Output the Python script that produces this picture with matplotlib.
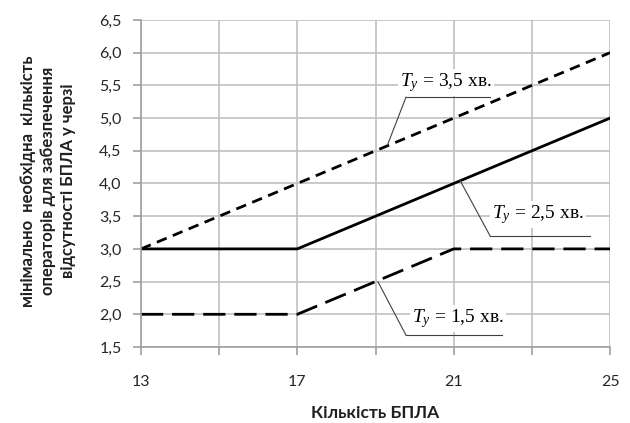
import matplotlib
matplotlib.use('Agg')
import matplotlib.pyplot as plt

# кількість БПЛА та мінімальна кількість операторів
drones = [13, 17, 21, 25]
ops_35 = [3, 4, 5, 6]
ops_25 = [3, 3, 4, 5]
ops_15 = [2, 2, 3, 3]

y_ticks = [1.5, 2.0, 2.5, 3.0, 3.5, 4.0, 4.5, 5.0, 5.5, 6.0, 6.5]
x_ticks = [13, 17, 21, 25]

plt.rcParams['mathtext.fontset'] = 'custom'
plt.rcParams['mathtext.rm'] = 'Liberation Serif'
plt.rcParams['mathtext.it'] = 'Liberation Serif:italic'

fig = plt.figure(figsize=(6.3, 4.23), dpi=100)
ax = fig.add_axes([0.2238, 0.1797, 0.7445, 0.773])

ax.plot(drones, ops_35, color='black', lw=2, dashes=(3.8, 2.4))
ax.plot(drones, ops_25, color='black', lw=2)
ax.plot(drones, ops_15, color='black', lw=2, dashes=(8, 3.2))

ax.set_xlim(13, 25)
ax.set_ylim(1.5, 6.5)
ax.set_xticks(x_ticks)
ax.set_xticks(range(13, 26, 2), minor=True)
ax.set_yticks(y_ticks)
ax.set_yticklabels([f"{v:.1f}".replace('.', ',') for v in y_ticks])
ax.grid(True, which='both', color='#c0c0c0', lw=1.2)
ax.set_axisbelow(True)
for s in ax.spines.values():
    s.set_visible(False)
ax.spines['left'].set_visible(True)
ax.spines['bottom'].set_visible(True)
ax.spines['left'].set_color('#a0a0a0')
ax.spines['bottom'].set_color('#a0a0a0')
ax.spines['left'].set_linewidth(1.2)
ax.spines['bottom'].set_linewidth(1.2)
ax.tick_params(axis='both', which='both', color='#a0a0a0', length=6, width=1.2,
               labelsize=11.5, labelcolor='#262626')
ax.tick_params(axis='x', which='major', pad=14)
ax.tick_params(axis='y', pad=8)
for lab in ax.get_xticklabels() + ax.get_yticklabels():
    lab.set_family('Lato')

ax.set_xlabel("Кількість БПЛА", fontsize=12.5, fontweight='bold', family='Lato',
              color='#202020')
ax.xaxis.set_label_coords(0.5, -0.177)
ax.set_ylabel("мінімально  необхідна  кількість\nоператорів для забезпечення\nвідсутності БПЛА у черзі",
              fontsize=12, fontweight='bold', family='Lato', color='#202020',
              linespacing=1.3)
ax.yaxis.set_label_coords(-0.139, 0.507)

# підписи з виносками
labels = [
    (r'$T_y$ = 3,5 хв.', 19.63, 5.54, 19.78, 21.93, 5.32, 19.3, 4.58),
    (r'$T_y$ = 2,5 хв.', 21.98, 3.52, 21.93, 24.49, 3.20, 21.16, 4.05),
    (r'$T_y$ = 1,5 хв.', 19.93, 1.94, 19.78, 22.24, 1.68, 19.06, 2.5),
]
for txt, tx, ty, ux0, ux1, uy, px, py in labels:
    ax.text(tx, ty, txt, fontsize=14, family='Liberation Serif', va='center', ha='left',
            bbox=dict(facecolor='white', edgecolor='none', pad=1.5), zorder=5)
    ax.plot([ux0, ux1], [uy, uy], color='#404040', lw=0.8, zorder=6)
    ax.plot([ux0, px], [uy, py], color='#404040', lw=0.8, zorder=6)

fig.savefig('out.png', dpi=100, facecolor='white')
